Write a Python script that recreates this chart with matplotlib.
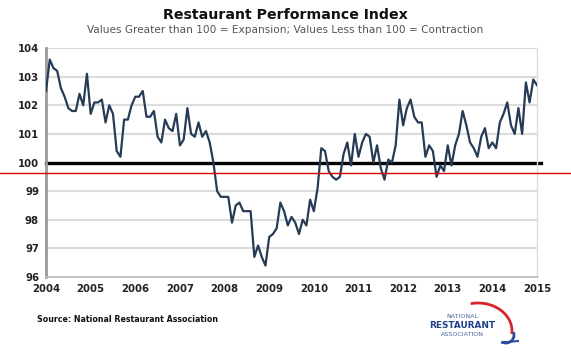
import matplotlib as mpl
mpl.use('Agg')
import matplotlib.pyplot as plt
from matplotlib.patches import Arc
import numpy as np

# monthly RPI, Jan 2004 .. Jan 2015
rpi = [102.5, 103.6, 103.3, 103.2, 102.6, 102.3, 101.9, 101.8, 101.8, 102.4, 102.0, 103.1,
       101.7, 102.1, 102.1, 102.2, 101.4, 102.0, 101.7, 100.4, 100.2, 101.5, 101.5, 102.0,
       102.3, 102.3, 102.5, 101.6, 101.6, 101.8, 100.9, 100.7, 101.5, 101.2, 101.1, 101.7,
       100.6, 100.8, 101.9, 101.0, 100.9, 101.4, 100.9, 101.1, 100.7, 100.0, 99.0, 98.8,
       98.8, 98.8, 97.9, 98.5, 98.6, 98.3, 98.3, 98.3, 96.7, 97.1, 96.7, 96.4,
       97.4, 97.5, 97.7, 98.6, 98.3, 97.8, 98.1, 97.9, 97.5, 98.0, 97.8, 98.7,
       98.3, 99.1, 100.5, 100.4, 99.7, 99.5, 99.4, 99.5, 100.3, 100.7, 99.9, 101.0,
       100.2, 100.7, 101.0, 100.9, 100.0, 100.6, 99.8, 99.4, 100.1, 100.0, 100.6, 102.2,
       101.3, 101.9, 102.2, 101.6, 101.4, 101.4, 100.2, 100.6, 100.4, 99.5, 99.9, 99.7,
       100.6, 99.9, 100.6, 101.0, 101.8, 101.3, 100.7, 100.5, 100.2, 100.9, 101.2, 100.5,
       100.7, 100.5, 101.4, 101.7, 102.1, 101.3, 101.0, 101.9, 101.0, 102.8, 102.1, 102.9,
       102.7]
years = list(range(2004, 2016))
yticks = [96, 97, 98, 99, 100, 101, 102, 103, 104]

t = 2004 + np.arange(len(rpi)) / 12.0

fig = plt.figure(figsize=(5.71, 3.56), dpi=100)
ax = fig.add_axes([0.0806, 0.222, 0.8599, 0.643])

for v in yticks:
    ax.axhline(v, color='#dcdcdc', lw=1.5, zorder=1)
ax.plot([2004, 2015.08], [100, 100], color='black', lw=2.4, zorder=2, clip_on=False)
ax.plot(t, rpi, color='#263b55', lw=1.6, zorder=3)

ax.set_xlim(2004, 2015)
ax.set_ylim(96, 104)
ax.set_xticks(years)
ax.set_xticklabels([str(y) for y in years])
ax.set_yticks(yticks)
ax.tick_params(length=0, labelsize=7.3, colors='#222222', pad=5)
for lb in ax.get_xticklabels() + ax.get_yticklabels():
    lb.set_fontweight('bold')
ax.spines['top'].set_visible(False)
ax.spines['left'].set_color('#999999')
ax.spines['left'].set_linewidth(2)
ax.spines['bottom'].set_color('#bbbbbb')
ax.spines['bottom'].set_linewidth(1.2)
ax.spines['right'].set_color('#dddddd')
ax.spines['right'].set_linewidth(1)

# red reference line across the full image
fig.add_artist(plt.Line2D([0, 1], [1 - 173 / 356, 1 - 173 / 356], color='#dd0000', lw=1,
                          transform=fig.transFigure))

fig.text(0.5, 1 - 15 / 356, 'Restaurant Performance Index', ha='center', va='center',
         fontsize=10.2, fontweight='bold', color='#111111')
fig.text(0.5, 1 - 30 / 356, 'Values Greater than 100 = Expansion; Values Less than 100 = Contraction',
         ha='center', va='center', fontsize=7.6, color='#555555')
fig.text(37 / 571, 1 - 320 / 356, 'Source: National Restaurant Association', ha='left', va='center',
         fontsize=5.7, fontweight='bold', color='#111111')

# logo
fig.text(462 / 571, 1 - 317 / 356, 'NATIONAL', ha='center', va='center', fontsize=4.6, color='#4a64a0')
fig.text(462 / 571, 1 - 325.5 / 356, 'RESTAURANT', ha='center', va='center', fontsize=6.4,
         fontweight='bold', color='#1f3f8a')
fig.text(462 / 571, 1 - 334 / 356, 'ASSOCIATION', ha='center', va='center', fontsize=4.6, color='#4a64a0')
lax = fig.add_axes([430 / 571, 1 - 350 / 356, 100 / 571, 50 / 356])
lax.set_xlim(430, 530)
lax.set_ylim(350, 300)
lax.axis('off')
lax.add_patch(Arc((478, 331), 68, 56, theta1=-105, theta2=5, color='#d8232a', lw=2))
lax.add_patch(Arc((506, 335), 16, 16, theta1=-20, theta2=120, color='#2a4a9a', lw=2))
lax.plot([502, 518], [342.5, 341], color='#2a4a9a', lw=1.5)

fig.savefig('out.png', dpi=100)
